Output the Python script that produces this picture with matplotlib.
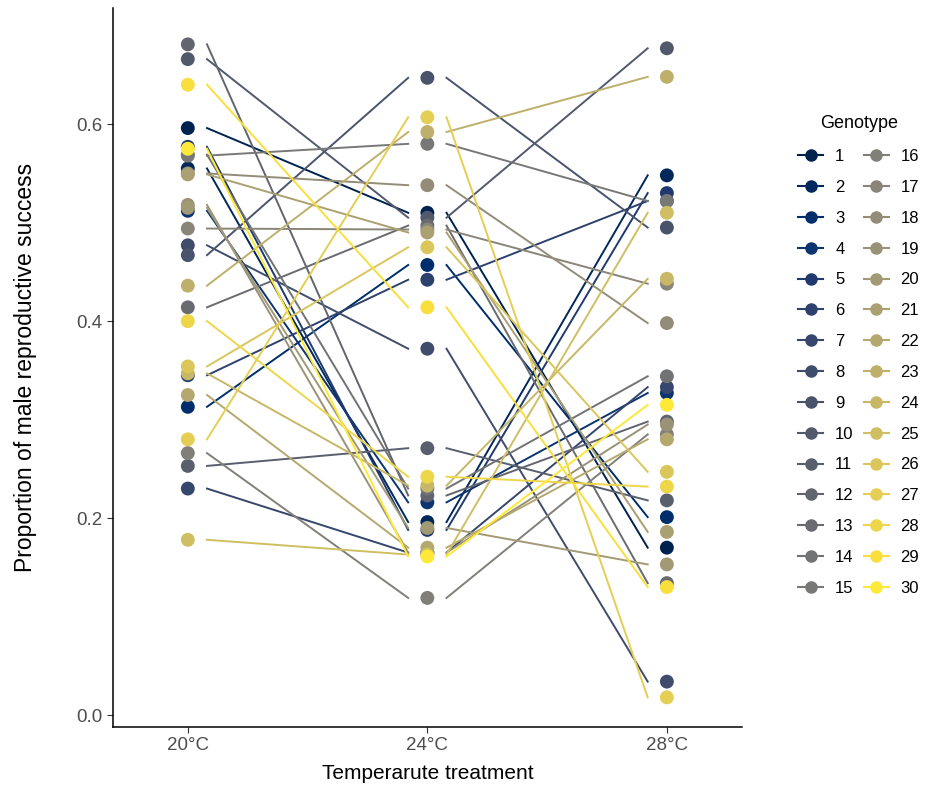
import numpy as np
import matplotlib
matplotlib.use("Agg")
import matplotlib.pyplot as plt
from matplotlib.lines import Line2D

plt.rcParams["font.family"] = ["Liberation Sans", "DejaVu Sans"]

temps = ["20°C", "24°C", "28°C"]
genotypes = [str(i) for i in range(1, 31)]

# proportion of male reproductive success per genotype at 20, 24, 28 °C
succ_20 = [0.596, 0.555, 0.313, 0.512, 0.577, 0.345, 0.230, 0.477, 0.467, 0.666,
           0.253, 0.681, 0.414, 0.569, 0.568, 0.266, 0.494, 0.550, 0.518, 0.515,
           0.549, 0.325, 0.436, 0.347, 0.178, 0.354, 0.280, 0.400, 0.640, 0.575]
succ_24 = [0.510, 0.196, 0.457, 0.216, 0.188, 0.442, 0.165, 0.372, 0.647, 0.505,
           0.271, 0.223, 0.497, 0.230, 0.580, 0.119, 0.493, 0.538, 0.165, 0.190,
           0.490, 0.170, 0.592, 0.233, 0.163, 0.475, 0.607, 0.242, 0.414, 0.161]
succ_28 = [0.170, 0.548, 0.201, 0.327, 0.530, 0.522, 0.333, 0.034, 0.495, 0.677,
           0.218, 0.298, 0.134, 0.344, 0.522, 0.285, 0.438, 0.398, 0.295, 0.153,
           0.186, 0.280, 0.648, 0.443, 0.510, 0.247, 0.018, 0.232, 0.130, 0.315]

colors = plt.cm.cividis(np.linspace(0, 1, len(genotypes)))
xpos = np.arange(1, len(temps) + 1)
gap = 0.08

fig = plt.figure(figsize=(9.25, 7.91), dpi=100)
ax = fig.add_axes([0.122, 0.081, 0.68, 0.909])

# segments leave a small horizontal gap next to each point
for i, g in enumerate(genotypes):
    ys = [succ_20[i], succ_24[i], succ_28[i]]
    for k in range(len(xpos) - 1):
        ax.plot([xpos[k] + gap, xpos[k + 1] - gap], [ys[k], ys[k + 1]],
                color=colors[i], lw=1.4, zorder=2)

for i, g in enumerate(genotypes):
    ys = [succ_20[i], succ_24[i], succ_28[i]]
    ax.scatter(xpos, ys, s=100, color=colors[i], edgecolors="none", zorder=3 + i * 0.01)

ax.set_xlim(0.687, 3.313)
ax.set_ylim(-0.012, 0.718)
ax.set_xticks(xpos)
ax.set_xticklabels(temps)
ax.set_yticks([0.0, 0.2, 0.4, 0.6])
ax.set_yticklabels(["0.0", "0.2", "0.4", "0.6"])
ax.tick_params(axis="both", labelsize=13.5, labelcolor="#4D4D4D", color="#333333",
               length=4, width=0.8)
for side in ["top", "right"]:
    ax.spines[side].set_visible(False)
for side in ["left", "bottom"]:
    ax.spines[side].set_linewidth(1.1)
ax.set_xlabel("Temperarute treatment", fontsize=15, labelpad=7)
ax.set_ylabel("Proportion of male reproductive success", fontsize=16.5, labelpad=28)

handles = [Line2D([], [], color=colors[i], lw=1.5, marker="o", markersize=8)
           for i in range(len(genotypes))]
leg = fig.legend(handles, genotypes, title="Genotype", ncol=2, loc="upper left",
                 bbox_to_anchor=(0.847, 0.873), frameon=False, fontsize=12,
                 title_fontsize=13, handlelength=1.5, labelspacing=0.95,
                 columnspacing=0.6, handletextpad=0.7)
leg._legend_box.sep = 12

fig.savefig("out.png", dpi=100)
